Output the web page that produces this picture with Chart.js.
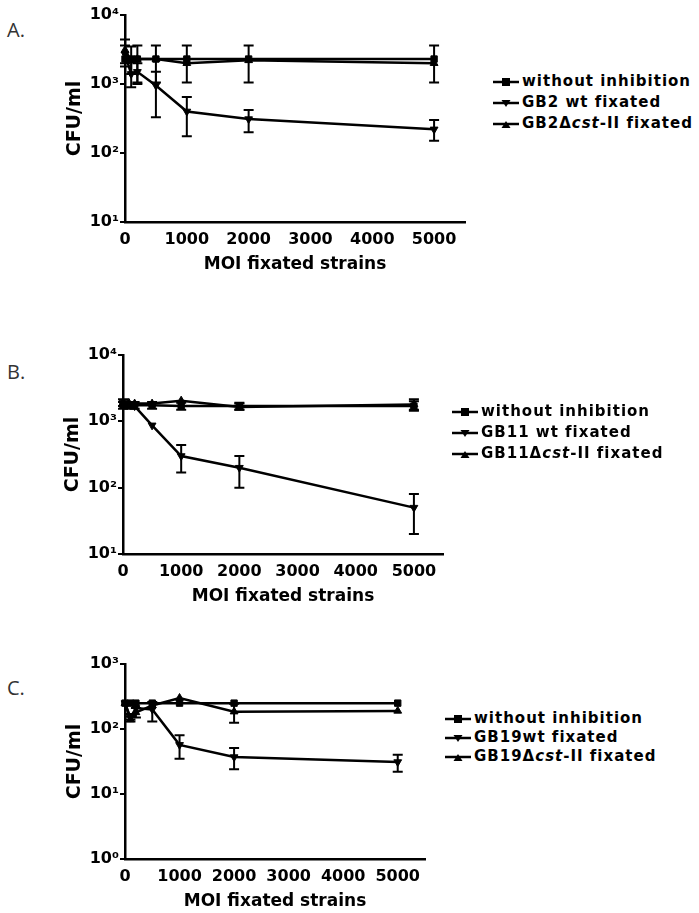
<!DOCTYPE html>
<html>
<head>
<meta charset="utf-8">
<script src="https://cdn.jsdelivr.net/npm/chart.js@4.4.1/dist/chart.umd.min.js"></script>
<style>
  body { margin: 0; background: #fff; width: 699px; height: 913px; position: relative; overflow: hidden; font-family: "DejaVu Sans", Verdana, sans-serif; }
  canvas { position: absolute; left: 0; }
  .tag { position: absolute; left: 7px; font: 20px "Open Sans", sans-serif; color: #333; }
  .legend { position: absolute; font-weight: bold; font-size: 15px; letter-spacing: 1px; color: #000; }
  .legend div { display: flex; align-items: center; white-space: nowrap; }
  .legend svg { margin-right: 2px; }
</style>
</head>
<body>
<div class="tag" style="top:16px">A.</div>
<div class="tag" style="top:358px">B.</div>
<div class="tag" style="top:674px">C.</div>

<canvas id="chartA" width="480" height="275" style="top:0px"></canvas>
<canvas id="chartB" width="458" height="267" style="top:340px"></canvas>
<canvas id="chartC" width="440" height="263" style="top:649px"></canvas>

<div class="legend" id="legA" style="left:493px; top:71px; line-height:21px"></div>
<div class="legend" id="legB" style="left:452px; top:401px; line-height:21px"></div>
<div class="legend" id="legC" style="left:445px; top:709px; line-height:19px"></div>

<script>
// MOI of the fixated strains (x values, same for every panel)
const moi = [0, 100, 200, 500, 1000, 2000, 5000];
const xTicks = [0, 1000, 2000, 3000, 4000, 5000];

// Panel A - GB2
const noInhA   = [2300, 2300, 2300, 2300, 2300, 2300, 2300];
const noInhALo = [null, null, 1050, 1050, 1050, 1050, 1050];
const noInhAHi = [null, null, 3600, 3600, 3600, 3600, 3600];
const wtA      = [2700, 1400, 1500, 950, 400, 310, 220];
const wtALo    = [1800, 900, 1000, 330, 175, 200, 150];
const wtAHi    = [3600, 2100, 2000, 1500, 650, 420, 300];
const dcstA    = [3100, 2200, 2300, 2300, 2000, 2200, 2000];
const dcstALo  = [2000, 1400, null, null, null, null, null];
const dcstAHi  = [4400, 3500, null, null, null, null, null];

// Panel B - GB11
const noInhB   = [1750, 1750, 1750, 1750, 1700, 1700, 1700];
const noInhBLo = [1550, 1550, 1550, 1550, 1500, 1500, 1450];
const noInhBHi = [1950, 1950, 1950, 1950, 1900, 1900, 2000];
const wtB      = [1900, 1800, 1700, 870, 300, 200, 50];
const wtBLo    = [1700, null, null, null, 170, 100, 20];
const wtBHi    = [2150, null, null, null, 440, 300, 80];
const dcstB    = [1900, 1900, 1850, 1850, 2050, 1650, 1800];
const dcstBLo  = [null, null, null, null, null, 1500, 1500];
const dcstBHi  = [null, null, null, null, null, 1850, 2150];

// Panel C - GB19
const noInhC   = [250, 250, 250, 250, 250, 250, 250];
const noInhCLo = [null, null, null, null, null, null, null];
const noInhCHi = [null, null, null, null, null, null, null];
const wtC      = [250, 150, 210, 200, 57, 37, 31];
const wtCLo    = [null, 140, null, 130, 35, 24, 22];
const wtCHi    = [null, 170, null, 260, 80, 51, 40];
const dcstC    = [250, 140, 180, 230, 300, 185, 190];
const dcstCLo  = [null, 130, 150, null, null, 125, null];
const dcstCHi  = [null, 155, 210, null, null, 245, null];

const sup = { 0: '\u2070', 1: '\u00B9', 2: '\u00B2', 3: '\u00B3', 4: '\u2074' };

// error bars, drawn with the chart's own scales
const errorBars = {
  id: 'errorBars',
  afterDatasetsDraw(chart) {
    const ctx = chart.ctx, xs = chart.scales.x, ys = chart.scales.y;
    ctx.save();
    ctx.strokeStyle = '#000';
    ctx.lineWidth = 2;
    chart.data.datasets.forEach(ds => {
      ds.data.forEach((v, i) => {
        const lo = ds.errLo[i], hi = ds.errHi[i];
        if (lo == null || hi == null) return;
        const x = xs.getPixelForValue(moi[i]);
        const y1 = ys.getPixelForValue(lo), y2 = ys.getPixelForValue(hi);
        ctx.beginPath();
        ctx.moveTo(x, y1); ctx.lineTo(x, y2);
        ctx.moveTo(x - 5, y1); ctx.lineTo(x + 5, y1);
        ctx.moveTo(x - 5, y2); ctx.lineTo(x + 5, y2);
        ctx.stroke();
      });
    });
    ctx.restore();
  }
};

function series(label, values, lo, hi, style, rot) {
  return {
    label: label,
    data: values.map((v, i) => ({ x: moi[i], y: v })),
    errLo: lo, errHi: hi,
    borderColor: '#000', backgroundColor: '#000',
    borderWidth: 2.5,
    pointStyle: style, rotation: rot,
    pointRadius: 4.5, pointBorderWidth: 1,
    clip: false
  };
}

function makeChart(id, datasets, yMin, yMax, yTicks, padLeft) {
  const tickFont = { family: 'DejaVu Sans', weight: 'bold', size: 16 };
  return new Chart(document.getElementById(id), {
    type: 'line',
    data: { datasets: datasets },
    options: {
      responsive: false, animation: false, devicePixelRatio: 1,
      layout: { padding: { top: 15, right: 15, left: padLeft, bottom: 0 } },
      plugins: { legend: { display: false }, tooltip: { enabled: false } },
      scales: {
        x: {
          type: 'linear', min: 0, max: 5500,
          afterBuildTicks: s => { s.ticks = xTicks.map(v => ({ value: v })); },
          afterFit: s => { s.height = 53; },
          border: { color: '#000', width: 2.5 },
          grid: { display: true, drawOnChartArea: false, drawTicks: false },
          ticks: { color: '#000', font: tickFont, padding: 8, maxRotation: 0,
                   callback: v => String(v) },
          title: { display: true, text: 'MOI fixated strains', color: '#000',
                   font: { family: 'DejaVu Sans', weight: 'bold', size: 17 }, padding: 0 }
        },
        y: {
          type: 'logarithmic', min: yMin, max: yMax,
          afterBuildTicks: s => { s.ticks = yTicks.map(v => ({ value: v })); },
          afterFit: s => { s.width = 61; },
          border: { color: '#000', width: 2.5 },
          grid: { display: true, drawOnChartArea: false, drawTicks: true, tickLength: 5, color: '#000', lineWidth: 2 },
          ticks: { color: '#000', font: tickFont, padding: 1,
                   callback: v => '10' + sup[Math.round(Math.log10(v))] },
          title: { display: true, text: 'CFU/ml', color: '#000',
                   font: { family: 'DejaVu Sans', weight: 'bold', size: 19 }, padding: 0 }
        }
      }
    },
    plugins: [errorBars]
  });
}

makeChart('chartA', [
  series('without inhibition', noInhA, noInhALo, noInhAHi, 'rect', 0),
  series('GB2 wt fixated', wtA, wtALo, wtAHi, 'triangle', 180),
  series('GB2\u0394cst-II fixated', dcstA, dcstALo, dcstAHi, 'triangle', 0)
], 10, 10000, [10, 100, 1000, 10000], 64);

makeChart('chartB', [
  series('without inhibition', noInhB, noInhBLo, noInhBHi, 'rect', 0),
  series('GB11 wt fixated', wtB, wtBLo, wtBHi, 'triangle', 180),
  series('GB11\u0394cst-II fixated', dcstB, dcstBLo, dcstBHi, 'triangle', 0)
], 10, 10000, [10, 100, 1000, 10000], 62);

makeChart('chartC', [
  series('without inhibition', noInhC, noInhCLo, noInhCHi, 'rect', 0),
  series('GB19wt fixated', wtC, wtCLo, wtCHi, 'triangle', 180),
  series('GB19\u0394cst-II fixated', dcstC, dcstCLo, dcstCHi, 'triangle', 0)
], 1, 1000, [1, 10, 100, 1000], 64);

// HTML legends (allows the italic "cst")
const markers = {
  rect: '<rect x="9" y="2" width="8" height="8" fill="#000"/>',
  down: '<polygon points="8.5,3 17.5,3 13,10" fill="#000"/>',
  up: '<polygon points="8.5,10 17.5,10 13,3" fill="#000"/>'
};
function legend(id, strain, gap) {
  const rows = [
    ['rect', 'without inhibition'],
    ['down', strain + gap + 'wt fixated'],
    ['up', strain + '\u0394<i>cst</i>-II fixated']
  ];
  document.getElementById(id).innerHTML = rows.map(r =>
    '<div><svg width="27" height="12"><line x1="0" y1="6" x2="26" y2="6" stroke="#000" stroke-width="2.5"/>' +
    markers[r[0]] + '</svg><span>' + r[1] + '</span></div>').join('');
}
legend('legA', 'GB2', ' ');
legend('legB', 'GB11', ' ');
legend('legC', 'GB19', '');
</script>
</body>
</html>
